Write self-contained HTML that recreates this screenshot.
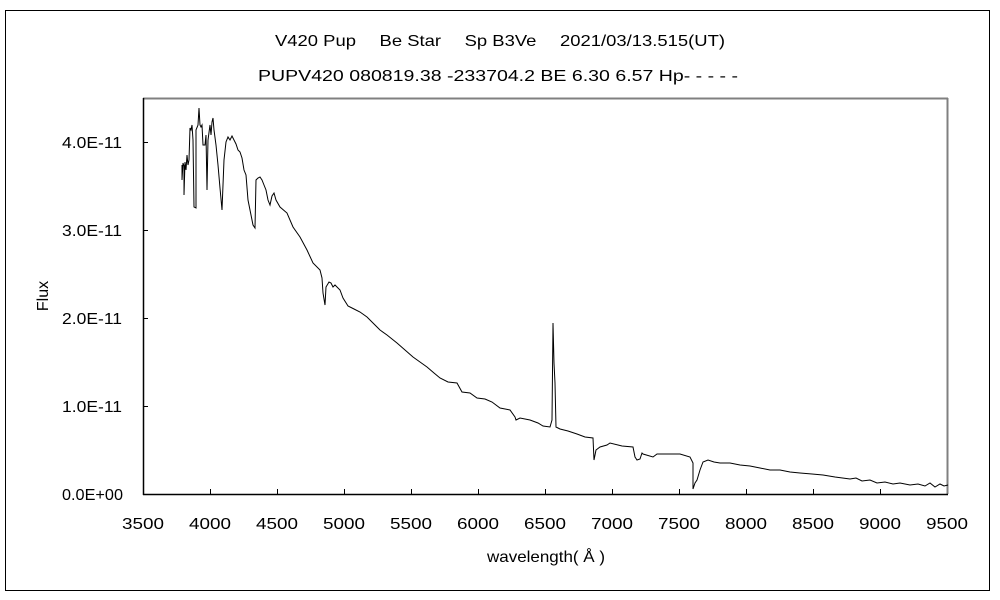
<!DOCTYPE html>
<html><head><meta charset="utf-8"><style>
body{margin:0;background:#fff;}
svg{display:block;font-family:"Liberation Sans","Noto Sans CJK JP",sans-serif;}
</style></head><body>
<svg width="1000" height="600" viewBox="0 0 1000 600" xmlns="http://www.w3.org/2000/svg">
<rect x="5.5" y="10.5" width="984" height="580" fill="#fff" stroke="#000" stroke-width="1"/>
<text x="275" y="46" font-size="16" textLength="450" lengthAdjust="spacingAndGlyphs">V420 Pup　 Be Star　 Sp B3Ve　 2021/03/13.515(UT)</text>
<text x="258" y="81" font-size="16" textLength="480" lengthAdjust="spacingAndGlyphs">PUPV420 080819.38 -233704.2 BE 6.30 6.57 Hp- - - - -</text>
<line x1="143" y1="98.5" x2="948" y2="98.5" stroke="#808080" stroke-width="2"/>
<line x1="947.5" y1="98" x2="947.5" y2="494" stroke="#808080" stroke-width="2"/>
<line x1="143.5" y1="98" x2="143.5" y2="495" stroke="#000" stroke-width="1.5"/>
<line x1="143" y1="494.5" x2="948" y2="494.5" stroke="#000" stroke-width="1.5"/>
<g stroke="#000" stroke-width="1">
<line x1="143" y1="406.5" x2="148" y2="406.5"/><line x1="143" y1="318.5" x2="148" y2="318.5"/>
<line x1="143" y1="230.5" x2="148" y2="230.5"/><line x1="143" y1="142.5" x2="148" y2="142.5"/>
<line x1="210.5" y1="494" x2="210.5" y2="489"/><line x1="277.5" y1="494" x2="277.5" y2="489"/>
<line x1="344.5" y1="494" x2="344.5" y2="489"/><line x1="411.5" y1="494" x2="411.5" y2="489"/>
<line x1="478.5" y1="494" x2="478.5" y2="489"/><line x1="545.5" y1="494" x2="545.5" y2="489"/>
<line x1="612.5" y1="494" x2="612.5" y2="489"/><line x1="679.5" y1="494" x2="679.5" y2="489"/>
<line x1="746.5" y1="494" x2="746.5" y2="489"/><line x1="813.5" y1="494" x2="813.5" y2="489"/>
<line x1="880.5" y1="494" x2="880.5" y2="489"/>
</g>
<g font-size="16" lengthAdjust="spacingAndGlyphs">
<text x="62" y="500" textLength="61" lengthAdjust="spacingAndGlyphs">0.0E+00</text>
<text x="62" y="412" textLength="60" lengthAdjust="spacingAndGlyphs">1.0E-11</text>
<text x="62" y="324" textLength="60" lengthAdjust="spacingAndGlyphs">2.0E-11</text>
<text x="62" y="236" textLength="60" lengthAdjust="spacingAndGlyphs">3.0E-11</text>
<text x="62" y="148" textLength="60" lengthAdjust="spacingAndGlyphs">4.0E-11</text>
</g>
<g font-size="16">
<text x="122" y="529" textLength="42" lengthAdjust="spacingAndGlyphs">3500</text>
<text x="189" y="529" textLength="42" lengthAdjust="spacingAndGlyphs">4000</text>
<text x="256" y="529" textLength="42" lengthAdjust="spacingAndGlyphs">4500</text>
<text x="323" y="529" textLength="42" lengthAdjust="spacingAndGlyphs">5000</text>
<text x="390" y="529" textLength="42" lengthAdjust="spacingAndGlyphs">5500</text>
<text x="457" y="529" textLength="42" lengthAdjust="spacingAndGlyphs">6000</text>
<text x="524" y="529" textLength="42" lengthAdjust="spacingAndGlyphs">6500</text>
<text x="591" y="529" textLength="42" lengthAdjust="spacingAndGlyphs">7000</text>
<text x="658" y="529" textLength="42" lengthAdjust="spacingAndGlyphs">7500</text>
<text x="725" y="529" textLength="42" lengthAdjust="spacingAndGlyphs">8000</text>
<text x="792" y="529" textLength="42" lengthAdjust="spacingAndGlyphs">8500</text>
<text x="859" y="529" textLength="42" lengthAdjust="spacingAndGlyphs">9000</text>
<text x="926" y="529" textLength="42" lengthAdjust="spacingAndGlyphs">9500</text>
<text x="487" y="562" textLength="118" lengthAdjust="spacingAndGlyphs">wavelength( Å )</text>
</g>
<text x="48" y="296" font-size="16" text-anchor="middle" transform="rotate(-90 48 296)">Flux</text>
<polyline fill="none" stroke="#000" stroke-width="1" stroke-linejoin="miter" points="
182,165 182,180 183,163 184,166 184,195 185,162 186,170 187,155 188,165 189,160 190,128 191,130 192,125 193,140 194,207 196,208 196,130 198,125 199,108 200,125 201,127 202,125 203,145 205,145 206,135 207,190 208,140 210,125 211,135 212,122 213,118 214,130 216,145 218,165 220,188 222,210 224,160 226,142 228,137 230,140 232,136 234,140 236,144 238,150 240,152 242,158 244,170 246,175 248,200 250,210 253,225 255,228 256,180 258,178 260,177 262,180 264,185 266,190 268,200 270,205 272,196 274,193 276,200 280,207 287,213 293,227 300,237 307,250 313,263 320,270 322,278 323,293 325,305 326,287 329,282 331,283 333,287 335,285 340,290 343,298 348,306 354,309 360,312 367,317 374,324 380,330 387,335 397,343 405,350 413,357 420,362 427,367 434,373 440,378 448,382 457,383 462,392 470,393 477,398 485,399 492,402 500,408 510,410 515,417 516,420 520,418 530,420 538,423 543,426 550,427 552,420 553,323 554,363 555,383 556,427 560,429 568,431 577,434 585,437 593,438 594,460 596,450 600,447 607,445 610,443 622,446 633,447 635,457 637,460 640,459 642,453 643,454 653,457 657,454 680,454 690,457 693,463 693,489 695,483 697,480 700,470 703,462 708,460 714,462 720,463 730,463 740,465 750,466 760,468 770,470 780,470 790,472 800,473 812,474 823,475 835,477 850,479 856,478 862,481 870,480 877,483 885,482 893,484 900,483 910,485 918,484 925,486 930,483 935,487 940,484 944,486 948,485"/>
</svg>
</body></html>
